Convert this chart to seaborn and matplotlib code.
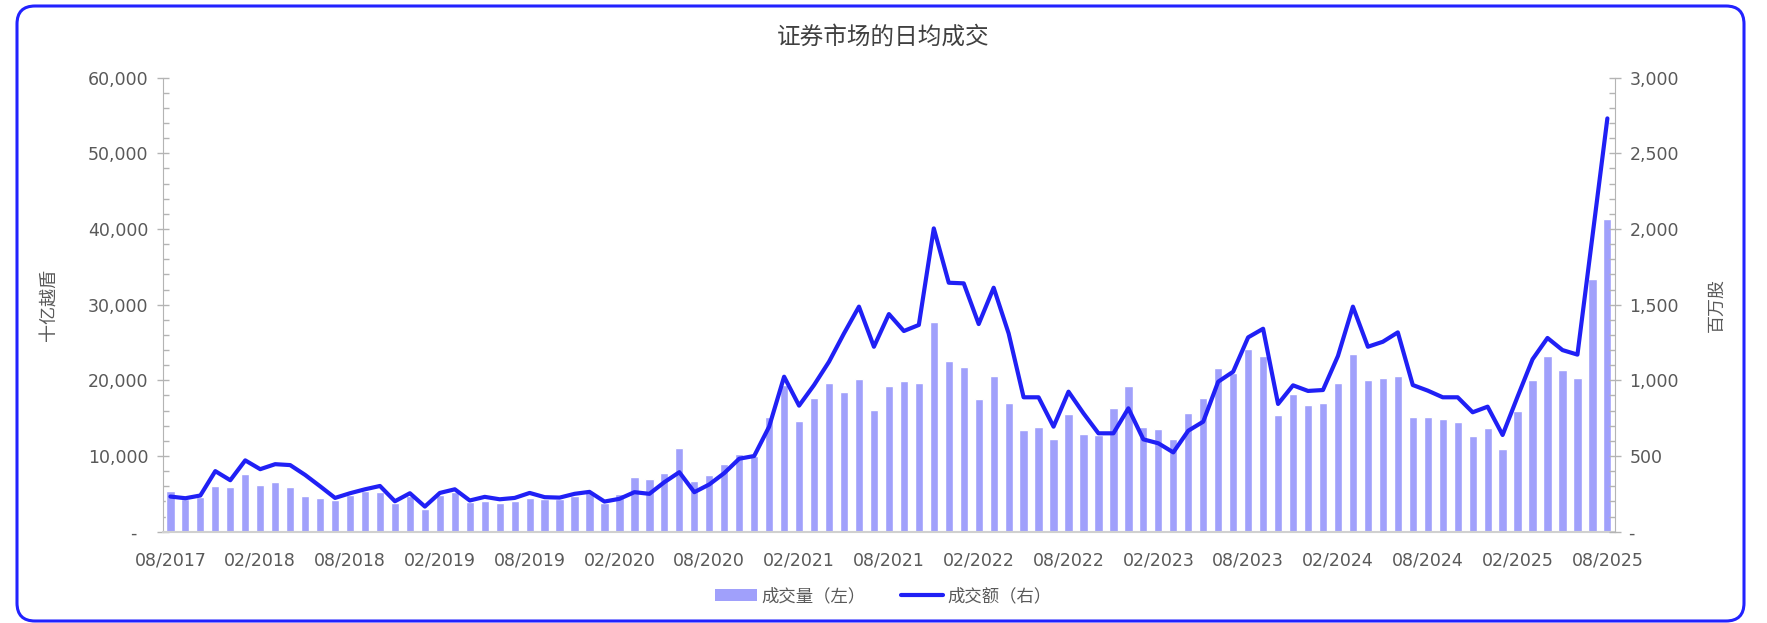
import matplotlib
matplotlib.use("Agg")
import matplotlib.pyplot as plt
import matplotlib.ticker as mticker
from matplotlib.patches import Patch, FancyBboxPatch
from matplotlib.lines import Line2D
from matplotlib.transforms import IdentityTransform
from matplotlib.font_manager import FontProperties
import seaborn as sns
import pandas as pd
import numpy as np

# monthly data, 08/2017 .. 08/2025
months = pd.date_range("2017-08-01", "2025-08-01", freq="MS").strftime("%m/%Y").tolist()

# 成交量 (left axis)
volume = [
    5440, 4300, 4560, 5970, 5840, 7650, 6200, 6500, 5930, 4730,
    4420, 4200, 4820, 5350, 5180, 3760, 4650, 3000, 4900, 5250,
    3900, 4030, 3850, 4030, 4470, 4340, 4340, 4780, 5220, 3760,
    5040, 7170, 6950, 7790, 11020, 6680, 7430, 8940, 10220, 10000,
    15200, 19400, 14620, 17700, 19600, 18400, 20180, 16120, 19250, 19950,
    19600, 27660, 22600, 21800, 17490, 20530, 17000, 13430, 13880, 12290,
    15500, 12860, 12800, 16390, 19250, 13830, 13570, 12200, 15680, 17620,
    21580, 21000, 24180, 23170, 15420, 18190, 16700, 17050, 19650, 23520,
    20040, 20260, 20530, 15110, 15150, 14930, 14540, 12640, 13740, 10880,
    15950, 20000, 23170, 21360, 20350, 33430, 41280,
]

# 成交额 (right axis)
value = [
    232, 221, 239, 400, 340, 471, 413, 446, 440, 375,
    300, 223, 254, 280, 302, 201, 254, 166, 256, 280,
    206, 230, 214, 223, 256, 228, 225, 250, 263, 199,
    217, 261, 250, 327, 393, 261, 312, 387, 482, 500,
    694, 1024, 833, 969, 1123, 1310, 1487, 1222, 1438, 1326,
    1366, 2004, 1645, 1641, 1372, 1612, 1310, 888, 888, 694,
    925, 782, 650, 650, 815, 610, 584, 524, 667, 727,
    991, 1057, 1284, 1341, 844, 967, 930, 936, 1161, 1487,
    1222, 1255, 1317, 969, 932, 888, 888, 789, 826, 639,
    892, 1139, 1280, 1200, 1170, 1950, 2731,
]

BAR = "#a0a0fb"
LINE = "#2020f5"
GREY = "#595959"
AXIS = "#b4b4b4"

sns.set_style("white")
plt.rcParams["font.family"] = ["DejaVu Sans", "Noto Sans CJK SC"]
cjk = ["Noto Sans CJK SC", "DejaVu Sans"]

df = pd.DataFrame({"month": months, "volume": volume, "value": value})
df["pos"] = np.arange(len(df))

fig = plt.figure(figsize=(17.67, 6.23), dpi=100)
ax = fig.add_axes([0.0922, 0.1466, 0.8217, 0.7287])

sns.barplot(data=df, x="month", y="volume", color=BAR, saturation=1,
            width=0.55, ax=ax)
ax2 = ax.twinx()
sns.lineplot(data=df, x="pos", y="value", color=LINE, linewidth=3, ax=ax2)

ax.set_xlim(-0.5, len(df) - 0.5)
ax.set_ylim(0, 60000)
ax2.set_ylim(0, 3000)

# x axis: labels under bars, tick marks on month boundaries
idx = list(range(0, len(df), 6))
ax.set_xticks(idx)
ax.set_xticklabels([months[i] for i in idx])
ax.set_xticks([i - 0.5 for i in idx], minor=True)
ax.tick_params(axis="x", which="major", length=0, pad=14, labelsize=12.5, labelcolor=GREY)
ax.tick_params(axis="x", which="minor", length=5, color=AXIS, direction="out")

def fmt(v, _):
    return "-  " if v == 0 else f"{v:,.0f}"

ax.yaxis.set_major_locator(mticker.MultipleLocator(10000))
ax.yaxis.set_minor_locator(mticker.MultipleLocator(2000))
ax.yaxis.set_major_formatter(mticker.FuncFormatter(fmt))
ax2.yaxis.set_major_locator(mticker.MultipleLocator(500))
ax2.yaxis.set_minor_locator(mticker.MultipleLocator(100))
ax2.yaxis.set_major_formatter(mticker.FuncFormatter(fmt))
for a in (ax, ax2):
    a.tick_params(axis="y", which="major", direction="inout", length=9, width=1,
                  color=AXIS, labelsize=12.5, labelcolor=GREY, pad=6)
    a.tick_params(axis="y", which="minor", direction="in", length=4, width=1, color=AXIS)

ax.spines["top"].set_visible(False)
ax.spines["right"].set_visible(False)
ax.spines["left"].set_color(AXIS)
ax.spines["bottom"].set_color("#d0d0d0")
ax.spines["bottom"].set_linewidth(1.5)
for s in ("top", "left", "bottom"):
    ax2.spines[s].set_visible(False)
ax2.spines["right"].set_color(AXIS)

ax.set_xlabel("")
ax2.set_xlabel("")
ax.set_ylabel("十亿越盾", family=cjk, fontsize=13, color=GREY)
ax2.set_ylabel("百万股", family=cjk, fontsize=13, color=GREY)
ax.yaxis.set_label_coords(-0.0716, 0.5)
ax2.yaxis.set_label_coords(1.064, 0.5)

fig.text(0.5, 1 - 37 / 623, "证券市场的日均成交", family=cjk, fontsize=17,
         fontweight="medium", color="#404040", ha="center", va="center")

handles = [Patch(facecolor=BAR, edgecolor="none"),
           Line2D([0], [0], color=LINE, linewidth=3)]
fig.legend(handles, ["成交量（左）", "成交额（右）"], loc="center",
           bbox_to_anchor=(0.5, 1 - 596 / 623), ncol=2, frameon=False,
           prop=FontProperties(family=cjk, size=12.5), labelcolor=GREY,
           handlelength=2.4, columnspacing=2.0, handletextpad=0.3)

border = FancyBboxPatch((17, 2), 1727, 615, boxstyle="round,pad=0,rounding_size=18",
                        transform=IdentityTransform(), fill=False,
                        edgecolor="#2222ff", linewidth=2.2)
fig.add_artist(border)

fig.savefig("out.png", dpi=100)
